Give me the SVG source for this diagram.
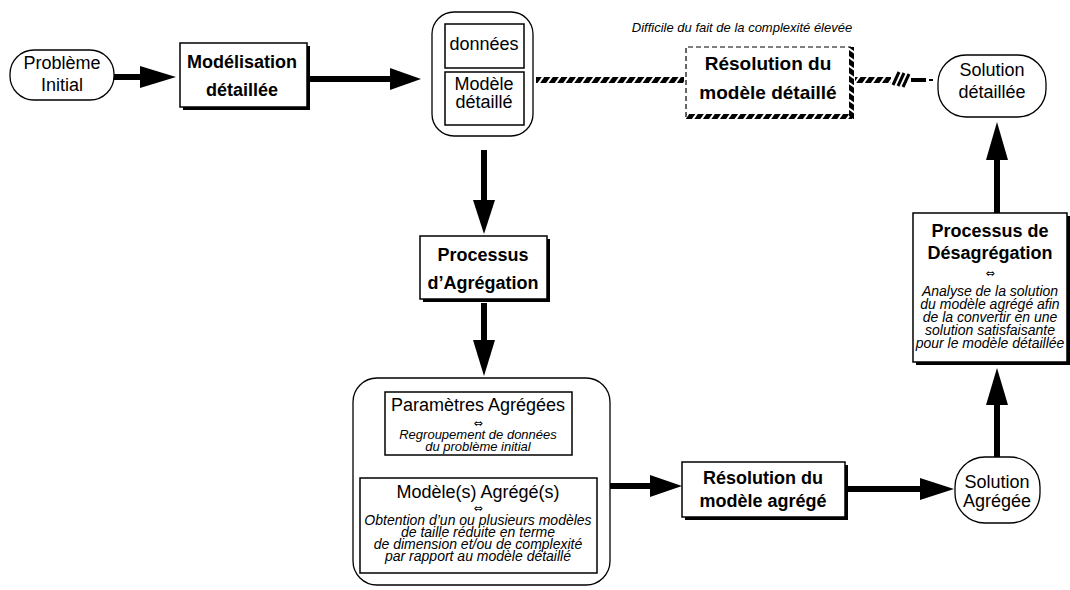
<svg xmlns="http://www.w3.org/2000/svg" width="1070" height="590" viewBox="0 0 1070 590">
<style>
.t{font-family:"Liberation Sans",Arial,sans-serif;fill:#000;text-anchor:middle}
.r{font-size:18px}
.b{font-size:18px;font-weight:bold}
.b2{font-size:19px;font-weight:bold}
.big{font-size:18px}
.i{font-size:14px;font-style:italic}
.i2{font-size:13px;font-style:italic}
.eq{font-family:"DejaVu Sans",sans-serif;font-size:11px;text-anchor:middle;fill:#000}
.box{fill:#fff;stroke:#000;stroke-width:1.5}
.sh{fill:#000}
.ln{stroke:#000;stroke-width:6;fill:none}
.thin{fill:none;stroke:#000;stroke-width:1.3}
</style>
<defs>
<pattern id="hatch" width="7" height="7" patternUnits="userSpaceOnUse" patternTransform="rotate(35)">
<rect x="0" y="0" width="5" height="7" fill="#000"/>
</pattern>
<pattern id="hatchv" width="7" height="7" patternUnits="userSpaceOnUse" patternTransform="rotate(-55)">
<rect x="0" y="0" width="5" height="7" fill="#000"/>
</pattern>
</defs>
<rect width="1070" height="590" fill="#fff"/>

<g id="probleme-initial">
<rect x="10" y="50" width="104" height="50" rx="24" class="thin"/>
<text class="t r" x="62" y="69">Problème</text>
<text class="t r" x="62" y="91">Initial</text>
</g>

<g id="modelisation">
<rect x="183" y="46" width="127" height="64" class="sh"/>
<rect x="180" y="43" width="127" height="64" class="box"/>
<text class="t b" x="242" y="68">Modélisation</text>
<text class="t b" x="242" y="96">détaillée</text>
</g>

<g id="donnees-modele">
<rect x="432" y="12" width="101" height="124" rx="22" class="thin"/>
<rect x="445" y="24" width="79" height="44" class="box"/>
<text class="t r" x="484" y="50">données</text>
<rect x="445" y="72" width="79" height="53" class="box"/>
<text class="t r" x="484" y="90">Modèle</text>
<text class="t r" x="484" y="108">détaillé</text>
</g>

<g id="difficile-label">
<text class="t i2" x="742" y="32">Difficile du fait de la complexité élevée</text>
</g>

<g id="resolution-detaille">
<rect x="686" y="47" width="165" height="70" fill="#fff"/>
<path d="M686,117 V47 H851" fill="none" stroke="#000" stroke-width="1.2" stroke-dasharray="5,3"/>
<rect x="849" y="47" width="5" height="72" fill="url(#hatchv)"/>
<rect x="686" y="114" width="166" height="5" fill="url(#hatch)"/>
<text class="t b2" x="768" y="70">Résolution du</text>
<text class="t b2" x="768" y="99">modèle détaillé</text>
</g>

<g id="solution-detaillee">
<rect x="938" y="55" width="108" height="62" rx="28" class="thin"/>
<text class="t r" x="992" y="76">Solution</text>
<text class="t r" x="992" y="98">détaillée</text>
</g>

<g id="agregation">
<rect x="423" y="239" width="127" height="63" class="sh"/>
<rect x="420" y="236" width="127" height="63" class="box"/>
<text class="t b" x="483" y="261">Processus</text>
<text class="t b" x="483" y="289">d’Agrégation</text>
</g>

<g id="agrege-group">
<rect x="353" y="378" width="257" height="207" rx="24" class="thin"/>
<rect x="385" y="392" width="187" height="63" class="box"/>
<text class="t big" x="478" y="411">Paramètres Agrégées</text>
<text class="eq" x="478" y="427">⇔</text>
<text class="t i2" x="478" y="439">Regroupement de données</text>
<text class="t i2" x="478" y="451">du problème initial</text>
<rect x="360" y="478" width="237" height="95" class="box"/>
<text class="t big" x="478" y="498">Modèle(s) Agrégé(s)</text>
<text class="eq" x="478" y="512">⇔</text>
<text class="t i" x="478" y="525">Obtention d’un ou plusieurs modèles</text>
<text class="t i" x="478" y="537">de taille réduite en terme</text>
<text class="t i" x="478" y="549">de dimension et/ou de complexité</text>
<text class="t i" x="478" y="561">par rapport au modèle détaillé</text>
</g>

<g id="resolution-agrege">
<rect x="685" y="465" width="163" height="55" class="sh"/>
<rect x="682" y="462" width="163" height="55" class="box"/>
<text class="t b" x="763" y="484">Résolution du</text>
<text class="t b" x="763" y="507">modèle agrégé</text>
</g>

<g id="solution-agregee">
<rect x="955" y="457" width="85" height="66" rx="30" class="thin"/>
<text class="t r" x="997" y="488">Solution</text>
<text class="t r" x="997" y="507">Agrégée</text>
</g>

<g id="desagregation">
<rect x="916" y="216" width="154" height="149" class="sh"/>
<rect x="913" y="213" width="154" height="149" class="box"/>
<text class="t b" x="990" y="237">Processus de</text>
<text class="t b" x="990" y="259">Désagrégation</text>
<text class="eq" x="990" y="277">⇔</text>
<text class="t i" x="990" y="296">Analyse de la solution</text>
<text class="t i" x="990" y="309">du modèle agrégé afin</text>
<text class="t i" x="990" y="322">de la convertir en une</text>
<text class="t i" x="990" y="335">solution satisfaisante</text>
<text class="t i" x="990" y="348">pour le modèle détaillée</text>
</g>

<g id="connectors">
<line x1="114" y1="77" x2="142" y2="77" class="ln"/>
<polygon points="140,66 176,77 140,88"/>
<line x1="310" y1="79" x2="392" y2="79" class="ln"/>
<polygon points="390,68 421,79 390,90"/>
<line x1="484" y1="150" x2="484" y2="202" class="ln"/>
<polygon points="473,200 484,234 495,200"/>
<line x1="484" y1="303" x2="484" y2="342" class="ln"/>
<polygon points="473,340 484,376 495,340"/>
<line x1="610" y1="486" x2="652" y2="486" class="ln"/>
<polygon points="650,475 682,486 650,497"/>
<line x1="848" y1="489" x2="922" y2="489" class="ln"/>
<polygon points="920,478 954,489 920,500"/>
<line x1="997" y1="457" x2="997" y2="403" class="ln"/>
<polygon points="986,405 997,368 1008,405"/>
<line x1="997" y1="213" x2="997" y2="158" class="ln"/>
<polygon points="986,160 997,122 1008,160"/>
<rect x="536" y="77" width="148" height="6" fill="url(#hatch)"/>
<rect x="855" y="77" width="36" height="6" fill="url(#hatch)"/>
<path d="M893,85 L899,72 M898,86 L904,73 M903,87 L909,74" stroke="#000" stroke-width="3"/>
<path d="M911,80 L926,80" stroke="#000" stroke-width="4"/>
<path d="M929,80 L933,80" stroke="#000" stroke-width="2"/>
</g>
</svg>
